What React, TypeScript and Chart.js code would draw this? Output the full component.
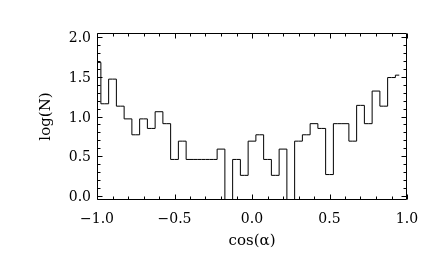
import React, { useEffect, useRef } from "react";
import { Chart, registerables } from "chart.js";

Chart.register(...registerables);

// Bin centres of the histogram (cos(alpha))
const binCenters = [
  -1.0, -0.95, -0.9, -0.85, -0.8, -0.75, -0.7, -0.65, -0.6, -0.55,
  -0.5, -0.45, -0.4, -0.35, -0.3, -0.25, -0.2, -0.15, -0.1, -0.05,
  0.0, 0.05, 0.1, 0.15, 0.2, 0.25, 0.3, 0.35, 0.4, 0.45,
  0.5, 0.55, 0.6, 0.65, 0.7, 0.75, 0.8, 0.85, 0.9, 0.95,
];

// log(N) per bin; null = empty bin (log of zero, falls below the axis)
const logN = [
  1.68, 1.16, 1.47, 1.13, 0.97, 0.77, 0.97, 0.85, 1.06, 0.91,
  0.46, 0.69, 0.46, 0.46, 0.46, 0.46, 0.59, null, 0.46, 0.26,
  0.69, 0.77, 0.46, 0.26, 0.59, null, 0.69, 0.77, 0.91, 0.85,
  0.27, 0.91, 0.91, 0.69, 1.14, 0.91, 1.32, 1.13, 1.49, 1.52,
];

const emptyBinValue = -10; // drawn far below the y range, clipped at the axis

const xTicks = [-1.0, -0.5, 0.0, 0.5, 1.0];
const yTicks = [0.0, 0.5, 1.0, 1.5, 2.0];
const xMinorStep = 0.1;
const yMinorStep = 0.1;
const xRange = [-1.0, 1.0];
const yRange = [-0.05, 2.05];

const xTitle = "cos(\u03b1)";
const yTitle = "log(N)";

const FONT_FAMILY = '"DejaVu Serif", serif';

function fmt(v: number) {
  const s = v.toFixed(1);
  return v < 0 ? "\u2212" + s.slice(1) : s;
}

const idlFrame = {
  id: "idlFrame",
  afterDraw(chart: any) {
    const { ctx, chartArea: a, scales } = chart;
    const xs = scales.x;
    const ys = scales.y;
    ctx.save();
    ctx.strokeStyle = "#000";
    ctx.lineWidth = 1;
    const L = Math.round(a.left) + 0.5;
    const R = Math.round(a.right) - 0.5;
    const T = Math.round(a.top) + 0.5;
    const B = Math.round(a.bottom) - 0.5;
    ctx.beginPath();
    ctx.rect(L, T, R - L, B - T);
    ctx.stroke();

    const majorLen = 5;
    const minorLen = 3;
    ctx.beginPath();
    // x ticks (bottom and top, inward)
    for (let v = xRange[0]; v <= xRange[1] + 1e-9; v += xMinorStep) {
      const isMajor = xTicks.some((t) => Math.abs(t - v) < 1e-6);
      const len = isMajor ? majorLen : minorLen;
      const px = Math.round(xs.getPixelForValue(v)) + 0.5;
      ctx.moveTo(px, B);
      ctx.lineTo(px, B - len);
      ctx.moveTo(px, T);
      ctx.lineTo(px, T + len);
    }
    // y ticks (left and right, inward)
    for (let v = 0; v <= yRange[1] + 1e-9; v += yMinorStep) {
      const isMajor = yTicks.some((t) => Math.abs(t - v) < 1e-6);
      const len = isMajor ? majorLen : minorLen;
      const py = Math.round(ys.getPixelForValue(v)) + 0.5;
      ctx.moveTo(L, py);
      ctx.lineTo(L + len, py);
      ctx.moveTo(R, py);
      ctx.lineTo(R - len, py);
    }
    ctx.stroke();

    // tick labels
    ctx.fillStyle = "#000";
    ctx.font = `14px ${FONT_FAMILY}`;
    ctx.textBaseline = "alphabetic";
    ctx.textAlign = "center";
    for (const t of xTicks) {
      ctx.fillText(fmt(t), xs.getPixelForValue(t), a.bottom + 23);
    }
    ctx.textAlign = "right";
    for (const t of yTicks) {
      ctx.fillText(fmt(t), a.left - 6, ys.getPixelForValue(t) + 5);
    }

    // axis titles
    ctx.font = `15px ${FONT_FAMILY}`;
    ctx.textAlign = "center";
    ctx.fillText(xTitle, (a.left + a.right) / 2, a.bottom + 45);
    ctx.save();
    ctx.translate(50, (a.top + a.bottom) / 2);
    ctx.rotate(-Math.PI / 2);
    ctx.textBaseline = "alphabetic";
    ctx.fillText(yTitle, 0, 0);
    ctx.restore();

    ctx.restore();
  },
};

export default function App() {
  const canvasRef = useRef<HTMLCanvasElement | null>(null);

  useEffect(() => {
    if (!canvasRef.current) return;
    const points = binCenters.map((x, i) => ({
      x,
      y: logN[i] === null ? emptyBinValue : (logN[i] as number),
    }));
    const chart = new Chart(canvasRef.current, {
      type: "line",
      data: {
        datasets: [
          {
            data: points,
            stepped: "middle",
            borderColor: "#000",
            borderWidth: 1,
            pointRadius: 0,
            fill: false,
          },
        ],
      },
      options: {
        animation: false,
        responsive: false,
        devicePixelRatio: 1,
        layout: { padding: { left: 97, right: 29, top: 33, bottom: 62 } },
        plugins: {
          legend: { display: false },
          tooltip: { enabled: false },
        },
        scales: {
          x: { type: "linear", min: xRange[0], max: xRange[1], display: false },
          y: { type: "linear", min: yRange[0], max: yRange[1], display: false },
        },
      },
      plugins: [idlFrame],
    });
    return () => chart.destroy();
  }, []);

  return (
    <div style={{ position: "fixed", left: 0, top: 0, width: 436, height: 262, background: "#fff" }}>
      <canvas ref={canvasRef} width={436} height={262} />
    </div>
  );
}
